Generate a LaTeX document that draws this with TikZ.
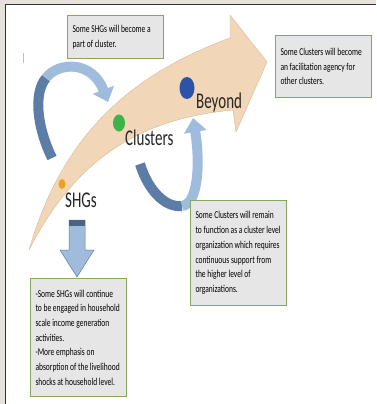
\documentclass[tikz,border=0pt]{standalone}
\usepackage{fontspec}
\setmainfont{Carlito}
\usetikzlibrary{positioning}
\usetikzlibrary{shapes.geometric}
\usetikzlibrary{arrows.meta}

\definecolor{sand}{HTML}{F1D6B7}
\definecolor{sandline}{HTML}{D8BA98}
\definecolor{paleblue}{HTML}{A0BCDD}
\definecolor{steelblue}{HTML}{5C7DA5}
\definecolor{boxgreen}{HTML}{84A95E}
\definecolor{boxgray}{HTML}{E6E6E6}
\definecolor{framegray}{HTML}{E6E2DB}
\definecolor{dotorange}{HTML}{F0A020}
\definecolor{dotgreen}{HTML}{3DB44A}
\definecolor{dotblue}{HTML}{2E52A8}

\newcommand{\boxtext}[1]{\scalebox{1}[1.4]{\parbox{86pt}{\raggedright\fontsize{7.5}{10.5}\selectfont #1}}}
\newcommand{\stagetext}[1]{\scalebox{1}[1.5]{#1}}

\begin{document}
\begin{tikzpicture}[x=1pt,y=-1pt,
  infobox/.style={draw=boxgreen,line width=1pt,fill=boxgray,inner xsep=5pt,inner ysep=6pt,minimum width=96pt,anchor=north west},
  stage/.style={anchor=base west,inner sep=0pt,font=\fontsize{15}{18}\selectfont,text=black!85},
  dot/.style={ellipse,inner sep=0pt},
  turn/.style={line width=10pt,line cap=butt}]
  \useasboundingbox (0,0) rectangle (376,404);
  % frame
  \fill[framegray] (0,0) rectangle (376,404);
  \fill[white] (6,5) rectangle (376,404);
  \draw[black!80,line width=1.5pt] (5.5,404) -- (5.5,4.5) -- (376,4.5);
  \draw[gray!50] (23,53) -- (23,63);

  % growth arrow
  \fill[sand,draw=sandline,line width=0.4pt] (29,250) .. controls (58,150) and (115,80) .. (230,38)
    -- (230,15) -- (267,62) -- (236,132) -- (233,110)
    .. controls (150,118) and (80,150) .. (29,250) -- cycle;

  % stages
  \node[dot,fill=dotorange,minimum width=7pt,minimum height=10pt] (shgdot) at (62,184) {};
  \node[dot,fill=dotgreen,minimum width=12pt,minimum height=17pt] (clusterdot) at (119,123) {};
  \node[dot,fill=dotblue,minimum width=15pt,minimum height=22pt] (beyonddot) at (187,88) {};
  \node[stage] (shgs) at (65,207) {\stagetext{SHGs}};
  \node[stage] (clusters) at (125,145) {\stagetext{Clusters}};
  \node[stage] (beyond) at (196,108) {\stagetext{Beyond}};

  % turning arrows
  \draw[turn,steelblue] (52,158) .. controls (36,125) and (34,92) .. (46,78);
  \draw[turn,paleblue,-{Triangle[length=13pt,width=22pt]}] (46,78) .. controls (58,62) and (92,60) .. (108,102);
  \draw[turn,steelblue] (140,164) .. controls (148,190) and (165,208) .. (182,206);
  \draw[turn,paleblue,-{Triangle[length=14pt,width=22pt]}] (182,206) .. controls (199,204) and (200,160) .. (193,118);

  % down arrow
  \fill[paleblue,draw=steelblue,line width=0.5pt] (69,220) -- (85,220) -- (85,250) -- (94,250)
    -- (77,277) -- (60,250) -- (69,250) -- cycle;
  \fill[steelblue!80!black] (69,220) rectangle (85,226);

  % notes
  \node[infobox,minimum height=43pt] (shgbox) at (67,15)
    {\boxtext{Some SHGs will become a\\part of cluster.}};
  \node[infobox,minimum height=62pt] (agencybox) at (275,35)
    {\boxtext{Some Clusters will become\\an facilitation agency for\\other clusters.}};
  \node[infobox,minimum height=105pt] (remainbox) at (190,200)
    {\boxtext{Some Clusters will remain\\to function as a cluster level\\organization which requires\\continuous support from\\the higher level of\\organizations.}};
  \node[infobox,minimum height=118pt] (householdbox) at (30,278)
    {\boxtext{-Some SHGs will continue\\to be engaged in household\\scale income generation\\activities.\\-More emphasis on\\absorption of the livelihood\\shocks at household level.}};
\end{tikzpicture}
\end{document}
